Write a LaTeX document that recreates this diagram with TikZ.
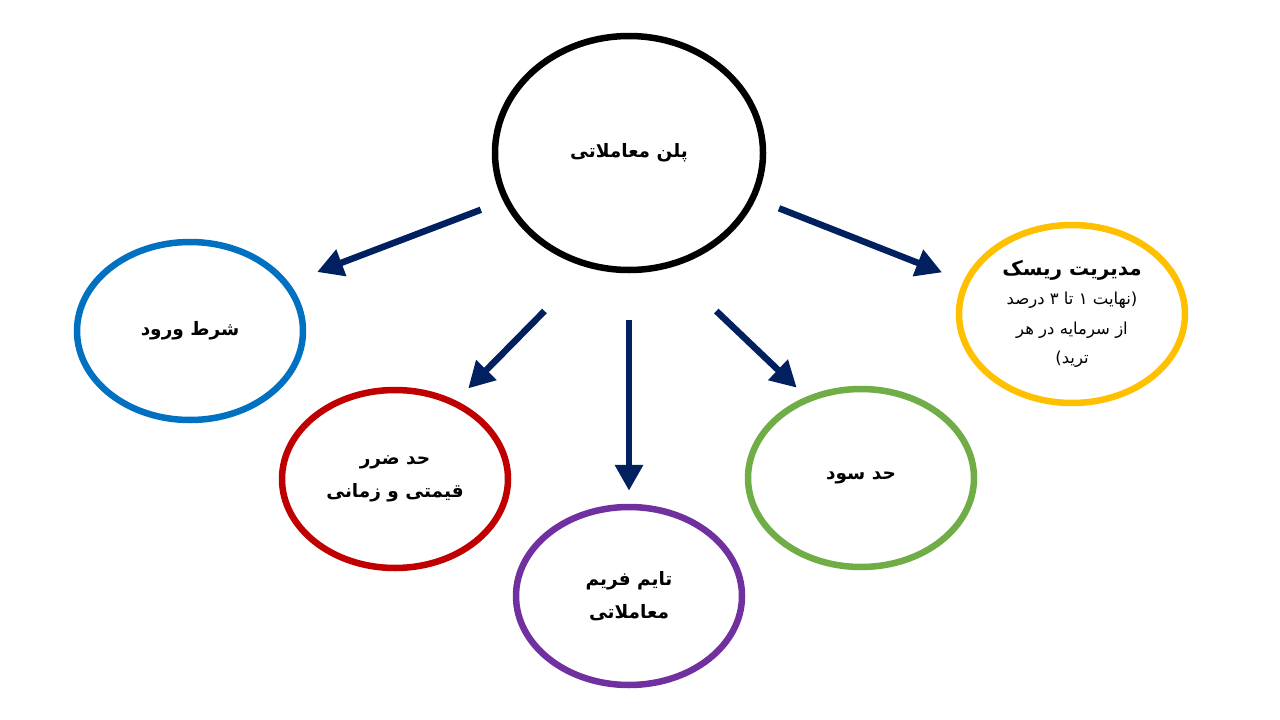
\documentclass[tikz,border=0pt]{standalone}
\usepackage{fontspec}
\usepackage{tikz}
\usetikzlibrary{shapes.geometric,arrows.meta}
\TeXXeTstate=1
\newfontfamily\arabicfont[Script=Arabic]{DejaVu Sans}
\definecolor{navy}{HTML}{002060}
\definecolor{ovblue}{HTML}{0070C0}
\definecolor{ovred}{HTML}{C00000}
\definecolor{ovpurple}{HTML}{7030A0}
\definecolor{ovgreen}{HTML}{70AD47}
\definecolor{ovyellow}{HTML}{FFC000}
\tikzset{
  oval/.style={ellipse, draw=#1, line width=6.5pt, minimum width=226pt, minimum height=178pt, inner sep=0pt, align=center},
  arr/.style={draw=navy, line width=6.5pt, -{Triangle[length=26pt,width=27pt]}},
  lab/.style={font=\arabicfont\bfseries\fontsize{18.5}{33}\selectfont},
  small/.style={font=\arabicfont\fontsize{16.5}{29.5}\selectfont}
}

\begin{document}
\begin{tikzpicture}[x=1pt, y=-1pt]
  \fill[white] (0,0) rectangle (1280,720);
  \useasboundingbox (0,0) rectangle (1280,720);

  % centre
  \node[oval=black, minimum width=268pt, minimum height=234pt, lab] (plan) at (629,153) {\beginR پلن معاملاتی\endR};

  % the five parts
  \node[oval=ovblue, lab] (entry) at (190,331) {\beginR شرط ورود\endR};
  \node[oval=ovred, lab] (stop) at (395,479) {\beginR حد ضرر\endR\\ \beginR قیمتی و زمانی\endR};
  \node[oval=ovpurple, lab] (frame) at (629,596) {\beginR تایم فریم\endR\\ \beginR معاملاتی\endR};
  \node[oval=ovgreen, lab] (profit) at (861,478) {\beginR حد سود\endR};
  \node[oval=ovyellow, small] (risk) at (1072,314)
    {{\bfseries\fontsize{20}{29.5}\selectfont\beginR مدیریت ریسک\endR}\\
     \beginR نهایت ۱ تا ۳ درصد\endR(\\
     \beginR از سرمایه در هر\endR\\
     )\beginR ترید\endR};

  \draw[arr, shorten <=24pt, shorten >=30pt] (plan.201) -- (entry.26);
  \draw[arr, shorten <=61pt, shorten >=17pt] (plan.250) -- (stop.52);
  \draw[arr, shorten <=47pt, shorten >=13pt] (plan.south) -- (frame.north);
  \draw[arr, shorten <=63pt, shorten >=13pt] (plan.290) -- (profit.124);
  \draw[arr, shorten <=25pt, shorten >=23pt] (plan.340) -- (risk.163);
\end{tikzpicture}
\end{document}
